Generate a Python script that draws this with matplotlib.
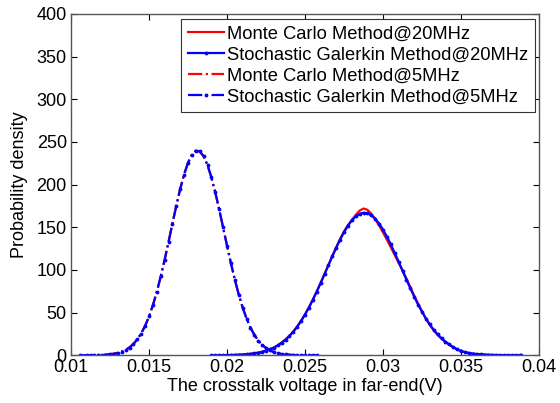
import matplotlib
matplotlib.use("Agg")
import matplotlib.pyplot as plt

plt.rcParams['font.family'] = ['Liberation Sans', 'DejaVu Sans']

# ---- data ----
# 5 MHz curves
volt_5mhz = [0.0106, 0.0110, 0.01125, 0.01150, 0.01175, 0.01200, 0.01225,
             0.01250, 0.01275, 0.01300, 0.01325, 0.01350, 0.01375, 0.01400,
             0.01425, 0.01450, 0.01475, 0.01500, 0.01525, 0.01550, 0.01575,
             0.01600, 0.01625, 0.01650, 0.01675, 0.01700, 0.01725, 0.01750,
             0.01775, 0.01800, 0.01825, 0.01850, 0.01875, 0.01900, 0.01925,
             0.01950, 0.01975, 0.02000, 0.02025, 0.02050, 0.02075, 0.02100,
             0.02125, 0.02150, 0.02175, 0.02200, 0.02225, 0.02250, 0.02275,
             0.02300, 0.02325, 0.02350, 0.02375, 0.02400, 0.02425, 0.02450,
             0.02475, 0.02500, 0.02525, 0.02550, 0.02580]
sg_5mhz = [0, 0.05, 0.1, 0.15, 0.25, 0.4, 0.7,
           1.1, 1.7, 2.7, 4.1, 6.2, 9.1, 13.1,
           18.5, 25.5, 34.4, 45.5, 58.9, 74.6, 92.4,
           111.9, 132.8, 154.1, 175.2, 194.7, 211.8, 225.5,
           235.0, 239.6, 239.1, 233.4, 223.1, 208.7, 190.9,
           171.0, 149.9, 128.5, 107.8, 88.6, 71.2, 56.0,
           43.1, 32.5, 23.9, 17.3, 12.2, 8.4, 5.7,
           3.8, 2.4, 1.5, 1.0, 0.6, 0.3, 0.2,
           0.1, 0.05, 0, 0, 0]
mc_5mhz = [0, 0, 0.1, 0.2, 0.3, 0.5, 0.8,
           1.3, 2.0, 3.0, 4.4, 6.5, 9.4, 13.5,
           18.8, 25.9, 34.6, 45.2, 58.5, 74.0, 92.0,
           111.5, 132.5, 154.5, 175.8, 195.2, 212.3, 225.8,
           235.4, 239.9, 238.8, 233.0, 222.6, 208.1, 190.4,
           170.6, 149.5, 128.8, 108.3, 89.1, 71.6, 56.3,
           43.3, 32.7, 24.1, 17.4, 12.3, 8.5, 5.8,
           3.9, 2.5, 1.6, 1.0, 0.6, 0.3, 0.2,
           0.1, 0, 0, 0, 0]

# 20 MHz curves
volt_20mhz = [0.01900, 0.01925, 0.01950, 0.01975, 0.02000, 0.02025, 0.02050,
              0.02075, 0.02100, 0.02125, 0.02150, 0.02175, 0.02200, 0.02225,
              0.02250, 0.02275, 0.02300, 0.02325, 0.02350, 0.02375, 0.02400,
              0.02425, 0.02450, 0.02475, 0.02500, 0.02525, 0.02550, 0.02575,
              0.02600, 0.02625, 0.02650, 0.02675, 0.02700, 0.02725, 0.02750,
              0.02775, 0.02800, 0.02825, 0.02850, 0.02875, 0.02900, 0.02925,
              0.02950, 0.02975, 0.03000, 0.03025, 0.03050, 0.03075, 0.03100,
              0.03125, 0.03150, 0.03175, 0.03200, 0.03225, 0.03250, 0.03275,
              0.03300, 0.03325, 0.03350, 0.03375, 0.03400, 0.03425, 0.03450,
              0.03475, 0.03500, 0.03525, 0.03550, 0.03575, 0.03600, 0.03625,
              0.03650, 0.03675, 0.03700, 0.03725, 0.03750, 0.03775, 0.03800,
              0.03825, 0.03850, 0.03875, 0.03883]
sg_20mhz = [0, 0.05, 0.1, 0.15, 0.2, 0.3, 0.4,
            0.6, 0.85, 1.2, 1.6, 2.2, 3.0, 4.0,
            5.3, 7.0, 9.0, 11.5, 14.6, 18.3, 22.6,
            27.7, 33.5, 40.2, 47.7, 55.9, 64.9, 74.5,
            84.5, 95.0, 105.5, 116.0, 126.0, 135.6, 144.2,
            151.8, 158.0, 162.7, 165.7, 167.0, 166.4, 164.1,
            160.0, 154.4, 147.4, 139.1, 130.0, 120.0, 109.7,
            99.2, 88.7, 78.5, 68.7, 59.4, 50.9, 43.1,
            36.1, 29.9, 24.5, 19.9, 16.0, 12.7, 9.5,
            7.0, 5.0, 3.7, 2.7, 2.0, 1.5, 1.1,
            0.8, 0.55, 0.4, 0.3, 0.2, 0.15, 0.1,
            0.05, 0, 0, 0]
mc_20mhz = [0, 0, 0.1, 0.1, 0.2, 0.3, 0.45,
            0.65, 0.9, 1.25, 1.7, 2.3, 3.1, 4.1,
            5.4, 7.1, 9.1, 11.6, 14.8, 18.5, 22.8,
            27.9, 33.8, 40.5, 48.0, 56.2, 65.2, 74.8,
            84.8, 95.3, 105.8, 116.4, 126.6, 136.3, 145.1,
            152.6, 158.5, 164.5, 169.5, 172.0, 170.5, 166.0,
            159.5, 152.0, 144.0, 135.5, 126.5, 117.5, 108.5,
            99.5, 90.0, 80.0, 70.0, 60.5, 51.5, 43.0,
            35.5, 29.2, 23.8, 19.3, 15.6, 12.4, 9.3,
            6.9, 4.9, 3.6, 2.6, 1.9, 1.4, 1.0,
            0.7, 0.5, 0.35, 0.25, 0.15, 0.1, 0.05,
            0, 0, 0, 0]

labels = ["Monte Carlo Method@20MHz", "Stochastic Galerkin Method@20MHz",
          "Monte Carlo Method@5MHz", "Stochastic Galerkin Method@5MHz"]
x_ticks = [0.01, 0.015, 0.02, 0.025, 0.03, 0.035, 0.04]
x_tick_labels = ["0.01", "0.015", "0.02", "0.025", "0.03", "0.035", "0.04"]
y_ticks = [0, 50, 100, 150, 200, 250, 300, 350, 400]

fig = plt.figure(figsize=(5.6, 4.03), dpi=100)
ax = fig.add_axes([0.1268, 0.1184, 0.8357, 0.8469])

ax.plot(volt_20mhz, mc_20mhz, '-', color='#ff0000', lw=1.6, label=labels[0])
ax.plot(volt_20mhz, sg_20mhz, marker='.', linestyle='-', color='#0000ff',
        lw=1.6, ms=3.5, label=labels[1])
ax.plot(volt_5mhz, mc_5mhz, '-.', color='#ff0000', lw=1.6, label=labels[2])
ax.plot(volt_5mhz, sg_5mhz, marker='.', linestyle='-.', color='#0000ff',
        lw=1.6, ms=3.5, label=labels[3])

ax.set_xlim(0.01, 0.04)
ax.set_ylim(0, 400)
ax.set_xticks(x_ticks)
ax.set_xticklabels(x_tick_labels)
ax.set_yticks(y_ticks)
ax.tick_params(direction='in', length=4, width=0.8, top=True, right=True,
               labelsize=13, colors='#000000', pad=3)
for sp in ax.spines.values():
    sp.set_color('#555555')
    sp.set_linewidth(1.0)

ax.set_xlabel("The crosstalk voltage in far-end(V)", fontsize=13)
ax.set_ylabel("Probability density", fontsize=13)
ax.yaxis.set_label_coords(-0.092, 0.5)
ax.xaxis.set_label_coords(0.5, -0.067)

leg = ax.legend(loc='upper right', bbox_to_anchor=(0.991, 0.985), borderaxespad=0,
                prop={'size': 13.2}, frameon=True, fancybox=False, framealpha=1,
                edgecolor='#333333', handlelength=1.95, handletextpad=0.2,
                labelspacing=0.22, borderpad=0.35)
leg.get_frame().set_linewidth(0.8)

fig.savefig("out.png", dpi=100)
